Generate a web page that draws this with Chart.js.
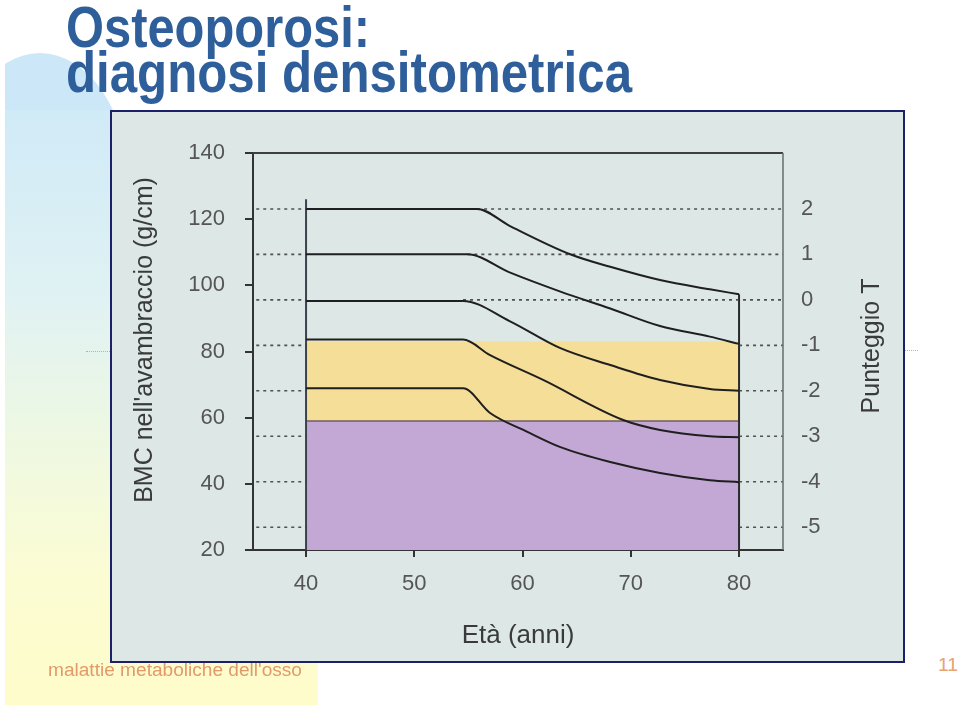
<!DOCTYPE html>
<html>
<head>
<meta charset="utf-8">
<script src="https://cdn.jsdelivr.net/npm/chart.js@4.4.0/dist/chart.umd.min.js"></script>
<style>
  html, body { margin:0; padding:0; background:#fff; width:960px; height:707px; overflow:hidden; position:relative;
    font-family:"Liberation Sans", Arial, sans-serif; }
  #deco { position:absolute; left:5px; top:40px; width:313px; height:665px; overflow:hidden; }
  #deco .ell { position:absolute; left:-55px; top:13px; width:180px; height:274px; border-radius:50%;
    background:#cce8f8; }
  #deco .rect { position:absolute; left:0; top:70px; width:313px; height:595px;
    background:linear-gradient(#d0eaf7 0%, #e0f2f3 32%, #eef8e2 55%, #fbfcd3 78%, #fffcca 100%); }
  .fit { position:absolute; white-space:nowrap; transform-origin:0 0; }
  #t1, #t2 { color:#2f5f9b; font-weight:bold; font-size:57px; line-height:57px; }
  #t1 { left:66px; top:-1px; }
  #t2 { left:66px; top:44px; }
  #foot { left:48px; top:661px; font-size:18px; line-height:18px; color:#e39a6b; }
  #pg { left:938px; top:655px; font-size:19px; line-height:19px; color:#e8a274; }
  .dotl { position:absolute; height:0; border-top:1px dotted #e0a878; }
  #box { position:absolute; left:110px; top:110px; width:795px; height:553px; box-sizing:border-box;
    border:2px solid #1b2068; background:#dde7e5; }
  #c { display:block; }
</style>
</head>
<body>
<div id="deco"><div class="ell"></div><div class="rect"></div></div>
<div class="dotl" style="left:86px; top:351px; width:24px;"></div>
<div class="dotl" style="left:905px; top:350px; width:13px;"></div>
<div id="t1" class="fit" data-w="304">Osteoporosi:</div>
<div id="t2" class="fit" data-w="566">diagnosi densitometrica</div>
<div id="box"><canvas id="c" width="791" height="549"></canvas></div>
<div id="foot" class="fit" data-w="254">malattie metaboliche dell'osso</div>
<div id="pg" class="fit" data-w="20">11</div>

<script>
// ---------- data ----------
const xTicks = [40, 50, 60, 70, 80];                 // Età (anni)
const yTicks = [20, 40, 60, 80, 100, 120, 140];      // BMC (g/cm)
const tTicks = [2, 1, 0, -1, -2, -3, -4, -5];        // Punteggio T
const dottedRightStart = [55.8, 54.9, 54.5, 80, 80, 80, 80, 80];

const curve1Age = [40, 55.8, 58.8, 64.4, 68.1, 72.7, 77.3, 80];
const curve1Bmc = [123.1, 123.1, 118.0, 109.4, 105.6, 101.6, 98.8, 97.3];
const curve2Age = [40, 54.9, 58.8, 63.5, 68.1, 72.7, 77.3, 80];
const curve2Bmc = [109.4, 109.4, 103.9, 98.1, 93.0, 87.7, 84.5, 82.3];
const curve3Age = [40, 54.5, 58.8, 63.5, 68.1, 72.7, 77.3, 80];
const curve3Bmc = [95.3, 95.3, 89.2, 81.0, 75.9, 71.4, 68.7, 68.1];
const curve4Age = [40, 54.5, 57.0, 61.9, 69.3, 72.7, 77.3, 80];
const curve4Bmc = [83.6, 83.6, 78.9, 71.4, 59.3, 56.3, 54.4, 54.1];
const curve5Age = [40, 54.5, 57.0, 60.4, 63.5, 68.1, 72.7, 77.3, 80];
const curve5Bmc = [68.9, 68.9, 61.4, 55.8, 51.1, 46.6, 43.3, 41.1, 40.5];

const bandAges = [40, 80];
const osteopeniaTop = 83;      // yellow band top (BMC)
const osteoporosisTop = 59;    // purple band top (BMC)
const age40Line = [20, 126];
const age80Line = [20, 97.3];

const xMin = 35.1, xMax = 84.06, yMin = 20, yMax = 140;
const tMin = -5.502, tMax = 3.231;

// ---------- fit slide texts ----------
document.querySelectorAll('.fit').forEach(el => {
  const w = el.getBoundingClientRect().width;
  el.style.transform = 'scaleX(' + (parseFloat(el.dataset.w) / w) + ')';
});

// ---------- build datasets ----------
const pts = (xs, ys) => xs.map((x, i) => ({ x: x, y: ys[i] }));
const curveStyle = { borderColor:'#1f1f1f', borderWidth:2, pointRadius:0, fill:false,
  cubicInterpolationMode:'monotone', order:1 };
const dotStyle = { borderColor:'rgba(55,55,55,0.85)', borderWidth:1.6, borderDash:[3,4],
  pointRadius:0, fill:false, tension:0, order:2 };

const datasets = [];
datasets.push({ label:'osteopenia', data: pts(bandAges, bandAges.map(() => osteopeniaTop)),
  borderWidth:0, pointRadius:0, backgroundColor:'#f5de98', fill:'start', order:10 });
datasets.push({ label:'osteoporosi', data: pts(bandAges, bandAges.map(() => osteoporosisTop)),
  borderColor:'#6e5e60', borderWidth:1.5, pointRadius:0, backgroundColor:'#c3a7d5', fill:'start', order:9 });

tTicks.forEach((t, i) => {
  datasets.push(Object.assign({ label:'T' + t + 'L', yAxisID:'yT',
    data: pts([xMin + 0.3, 40], [t, t]) }, dotStyle));
  datasets.push(Object.assign({ label:'T' + t + 'R', yAxisID:'yT',
    data: pts([dottedRightStart[i], xMax], [t, t]) }, dotStyle));
});

datasets.push({ label:'v40', data: pts([40, 40], age40Line), borderColor:'#3a4250', borderWidth:2, pointRadius:0, fill:false, order:3 });
datasets.push({ label:'v80', data: pts([80, 80], age80Line), borderColor:'#2a2a2a', borderWidth:2, pointRadius:0, fill:false, order:3 });

[[curve1Age, curve1Bmc], [curve2Age, curve2Bmc], [curve3Age, curve3Bmc],
 [curve4Age, curve4Bmc], [curve5Age, curve5Bmc]].forEach((c, i) => {
  datasets.push(Object.assign({ label:'curve' + (i + 1), data: pts(c[0], c[1]) }, curveStyle));
});

// ---------- decoration plugin (frame + rotated titles) ----------
const decor = {
  id:'decor',
  afterDatasetsDraw(chart) {
    const { ctx, chartArea:a } = chart;
    ctx.save();
    ctx.strokeStyle = '#3d3f40'; ctx.lineWidth = 2;
    ctx.beginPath(); ctx.moveTo(a.left, a.top); ctx.lineTo(a.right, a.top); ctx.stroke();
    ctx.strokeStyle = '#6d7474'; ctx.lineWidth = 1.6;
    ctx.beginPath(); ctx.moveTo(a.right, a.top); ctx.lineTo(a.right, a.bottom); ctx.stroke();
    ctx.restore();
  },
  afterDraw(chart) {
    const ctx = chart.ctx;
    const draw = (txt, x, y) => {
      ctx.save();
      ctx.fillStyle = '#3a3a3a';
      ctx.font = '25px "Liberation Sans", Arial, sans-serif';
      ctx.textAlign = 'center'; ctx.textBaseline = 'middle';
      ctx.translate(x, y); ctx.rotate(-Math.PI / 2);
      ctx.fillText(txt, 0, 0);
      ctx.restore();
    };
    draw("BMC nell'avambraccio (g/cm)", 33, 228);
    draw('Punteggio T', 760, 234);
  }
};

Chart.defaults.font.family = '"Liberation Sans", Arial, sans-serif';

new Chart(document.getElementById('c'), {
  type:'line',
  data:{ datasets: datasets },
  plugins:[decor],
  options:{
    responsive:false, animation:false, devicePixelRatio:1,
    layout:{ padding:{ top:41, left:0, right:0, bottom:0 } },
    plugins:{ legend:{ display:false }, tooltip:{ enabled:false } },
    elements:{ line:{ borderCapStyle:'butt' } },
    scales:{
      x:{ type:'linear', min:xMin, max:xMax,
        afterBuildTicks: s => { s.ticks = xTicks.map(v => ({ value:v })); },
        afterFit: s => { s.height = 111; },
        grid:{ drawOnChartArea:false, drawTicks:true, tickLength:7, color:'#333', lineWidth:2 },
        border:{ display:true, color:'#333', width:2 },
        ticks:{ color:'#555', font:{ size:22 }, padding:14, maxRotation:0 },
        title:{ display:true, text:'Età (anni)', color:'#3a3a3a', font:{ size:26 }, padding:{ top:0, bottom:10 } }
      },
      y:{ type:'linear', position:'left', min:yMin, max:yMax,
        afterBuildTicks: s => { s.ticks = yTicks.map(v => ({ value:v })); },
        afterFit: s => { s.width = 141; },
        grid:{ drawOnChartArea:false, drawTicks:true, tickLength:8, color:'#333', lineWidth:2 },
        border:{ display:true, color:'#333', width:2 },
        ticks:{ color:'#555', font:{ size:22 }, padding:20 }
      },
      yT:{ type:'linear', position:'right', min:tMin, max:tMax,
        afterBuildTicks: s => { s.ticks = tTicks.map(v => ({ value:v })); },
        afterFit: s => { s.width = 120; },
        grid:{ display:false, drawTicks:false, drawOnChartArea:false },
        border:{ display:false },
        ticks:{ color:'#555', font:{ size:22 }, padding:18 }
      }
    }
  }
});
</script>
</body>
</html>
